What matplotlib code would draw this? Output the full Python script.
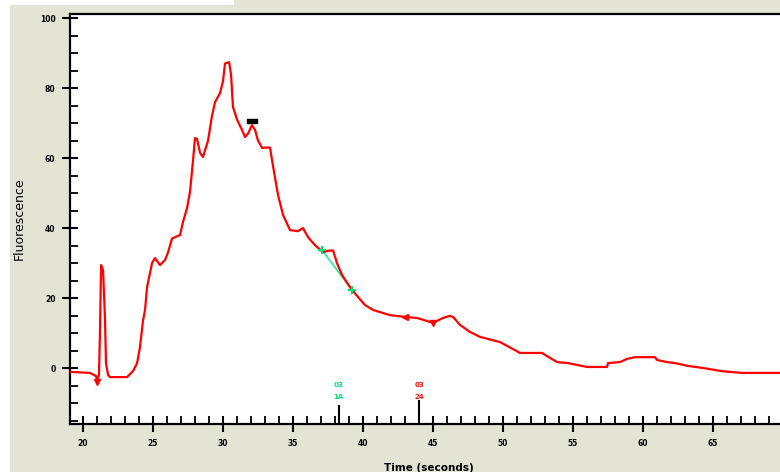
import matplotlib
matplotlib.use("Agg")
import matplotlib.pyplot as plt
from matplotlib.patches import Rectangle
from matplotlib.ticker import MultipleLocator

# fluorescence trace (time in s, intensity)
time_s = [19.07, 20.5, 20.93, 21.0, 21.14, 21.21, 21.29, 21.43, 21.57, 21.64,
          21.79, 21.93, 23.14, 23.57, 23.86, 24.07, 24.29, 24.43, 24.57, 24.93,
          25.14, 25.5, 25.86, 26.07, 26.36, 26.93, 27.14, 27.43, 27.64, 27.86,
          28.0, 28.14, 28.36, 28.57, 28.93, 29.21, 29.43, 29.79, 30.0, 30.14,
          30.43, 30.57, 30.71, 31.0, 31.36, 31.57, 31.79, 32.07, 32.29, 32.5,
          32.79, 33.14, 33.36, 33.5, 33.93, 34.29, 34.79, 35.36, 35.71, 36.07,
          36.57, 37.14, 37.5, 37.86, 38.14, 38.5, 39.07, 39.64, 40.14, 40.71,
          41.93, 43.0, 43.86, 45.0, 45.71, 46.21, 46.43, 46.93, 47.64, 48.36,
          49.79, 50.86, 51.21, 52.79, 53.14, 53.86, 54.64, 56.0, 57.43, 57.5,
          58.36, 58.86, 59.43, 60.86, 61.0, 61.71, 62.29, 63.21, 64.29, 65.64,
          67.07, 69.79]
fluor = [-1.1, -1.4, -2.3, -3.4, -2.0, 10.0, 29.4, 28.0, 14.0, 1.4,
         -2.0, -2.6, -2.6, -0.9, 1.4, 6.0, 13.7, 16.6, 23.0, 30.0,
         31.4, 29.4, 30.9, 33.0, 37.0, 38.0, 41.7, 45.7, 50.3, 59.4,
         65.7, 65.5, 61.5, 60.3, 65.0, 72.0, 76.0, 78.6, 82.0, 87.0,
         87.4, 84.0, 74.6, 71.0, 68.0, 66.0, 67.0, 69.4, 68.0, 65.0,
         62.9, 63.0, 63.0, 59.4, 49.4, 43.7, 39.4, 39.1, 40.0, 37.4,
         35.1, 33.1, 33.5, 33.6, 30.0, 26.6, 23.1, 20.3, 18.0, 16.6,
         15.1, 14.6, 14.3, 12.9, 14.3, 14.9, 14.6, 12.3, 10.3, 8.9,
         7.4, 5.1, 4.3, 4.3, 3.4, 1.7, 1.4, 0.3, 0.3, 1.4,
         1.7, 2.6, 3.1, 3.1, 2.3, 1.7, 1.4, 0.6, 0.0, -0.9,
         -1.4, -1.4]

# peak baseline (green) and detected events
green_t = [37.07, 39.21]
green_f = [33.7, 22.3]
apex_t, apex_f = 32.07, 70.5
red_marks_t = [21.0, 43.0, 45.0]
red_marks_f = [-4.0, 14.6, 13.0]
red_marks_m = ["v", "<", "v"]
event_t = [38.25, 44.0]
event_top = [-10.6, -9.1]
event_lab = [("03", "1A"), ("03", "24")]
event_col = ["#00e070", "#ff1010"]

xticks = [20, 25, 30, 35, 40, 45, 50, 55, 60, 65]
yticks = [0, 20, 40, 60, 80, 100]

bg = "#e4e4d5"
fig = plt.figure(figsize=(7.8, 4.72), dpi=100, facecolor=bg)
fig.patches.append(Rectangle((0, 0), 10 / 780, 1, transform=fig.transFigure,
                             facecolor="white", edgecolor="none", zorder=0))
fig.patches.append(Rectangle((0, 1 - 5 / 472), 0.3, 5 / 472, transform=fig.transFigure,
                             facecolor="white", edgecolor="none", zorder=0))

ax = fig.add_axes([70 / 780, 1 - 424 / 472, 1 - 70 / 780 + 0.01, (424 - 13.5) / 472])
ax.set_facecolor("white")
ax.set_xlim(19.07, 19.07 + (780 - 70) / 14 * 1.0 + 0.01 * 780 / 14)
ax.set_ylim(-16, 101.3)

ax.plot(time_s, fluor, color="#ff0000", lw=1.6, zorder=3)
ax.plot(green_t, green_f, color="#2ee89a", lw=1.2, zorder=2)
ax.plot(green_t, green_f, ls="none", marker="+", ms=6, mew=1.5, color="#00e070", zorder=4)
# flat apex marker
bar_marker = [(-1, -0.45), (1, -0.45), (1, 0.45), (-1, 0.45), (-1, -0.45)]
ax.plot(apex_t, apex_f, ls="none", marker=bar_marker, ms=7, color="black", zorder=5)
for t, f, m in zip(red_marks_t, red_marks_f, red_marks_m):
    ax.plot(t, f, ls="none", marker=m, ms=5, color="#ff0000", zorder=4)

for t, top, (l1, l2), c in zip(event_t, event_top, event_lab, event_col):
    ax.vlines(t, -16, top, color="black", lw=1.5, zorder=4)
    ax.text(t, -4.9, l1, color=c, fontsize=5, fontweight="bold", ha="center", va="center")
    ax.text(t, -8.4, l2, color=c, fontsize=5, fontweight="bold", ha="center", va="center")

for side in ["left", "bottom", "top"]:
    ax.spines[side].set_linewidth(1.6)
ax.spines["right"].set_visible(False)

ax.set_xticks(xticks)
ax.set_yticks(yticks)
ax.xaxis.set_minor_locator(MultipleLocator(1))
ax.yaxis.set_minor_locator(MultipleLocator(5))
ax.tick_params(which="major", direction="inout", length=11, width=1.5,
               labelsize=5.5, pad=5)
ax.tick_params(which="minor", direction="in", length=6, width=1.3)
for lab in ax.get_xticklabels() + ax.get_yticklabels():
    lab.set_fontweight("bold")

ax.set_ylabel("Fluorescence", fontsize=9, labelpad=10)
ax.set_xlabel("Time (seconds)", fontsize=7.5, fontweight="bold", labelpad=11)

fig.savefig("out.png", dpi=100, facecolor=bg)
